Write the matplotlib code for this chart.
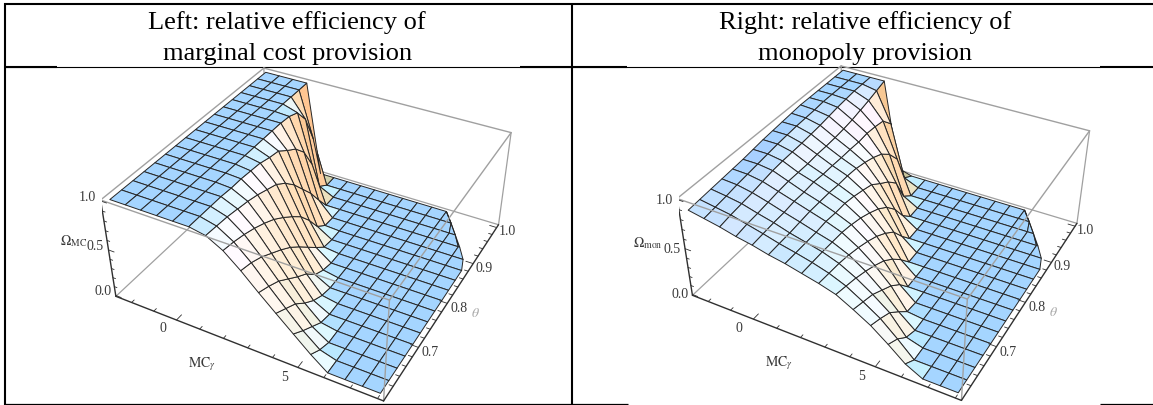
import numpy as np
import matplotlib
matplotlib.use("Agg")
import matplotlib.pyplot as plt

plt.rcParams['font.family'] = ['Liberation Serif', 'DejaVu Serif']
plt.rcParams['mathtext.fontset'] = 'stix'

FIG_W, FIG_H = 1153, 406

# grid of the surface
mc_grid = [-2.5, -1.84, -1.19, -0.53, 0.13, 0.78, 1.44, 2.09, 2.75, 3.41, 4.06, 4.72, 5.38, 6.03, 6.69, 7.34, 8.0]
theta_grid = [0.6, 0.625, 0.65, 0.675, 0.7, 0.725, 0.75, 0.775, 0.8, 0.825, 0.85, 0.875, 0.9, 0.925, 0.95, 0.975, 1.0]
# the surface is cut off at high theta
mc_edge = [8.0, 8.0, 8.0, 8.0, 8.0, 8.0, 8.0, 8.0, 8.0, 8.0, 8.0, 8.0, 7.8, 7.4, 6.95, 6.5, 6.03]

omega_mc = [
    [1, 1, 1, 1, 1, 1, .97, .88, .74, .58, .43, .28, .13, 0, 0, 0, 0],
    [1, 1, 1, 1, 1, 1, .96, .86, .71, .53, .36, .19, .05, 0, 0, 0, 0],
    [1, 1, 1, 1, 1, 1, .95, .83, .66, .47, .29, .11, 0, 0, 0, 0, 0],
    [1, 1, 1, 1, 1, 1, .93, .79, .59, .38, .18, .03, 0, 0, 0, 0, 0],
    [1, 1, 1, 1, 1, .99, .91, .74, .52, .29, .09, 0, 0, 0, 0, 0, 0],
    [1, 1, 1, 1, 1, .99, .88, .68, .44, .21, .03, 0, 0, 0, 0, 0, 0],
    [1, 1, 1, 1, 1, .98, .84, .60, .34, .09, 0, 0, 0, 0, 0, 0, 0],
    [1, 1, 1, 1, 1, .97, .80, .51, .23, .03, 0, 0, 0, 0, 0, 0, 0],
    [1, 1, 1, 1, 1, .94, .72, .41, .12, 0, 0, 0, 0, 0, 0, 0, 0],
    [1, 1, 1, 1, 1, .92, .61, .27, .02, 0, 0, 0, 0, 0, 0, 0, 0],
    [1, 1, 1, 1, 1, .84, .47, .10, 0, 0, 0, 0, 0, 0, 0, 0, 0],
    [1, 1, 1, 1, 1, .77, .33, .01, 0, 0, 0, 0, 0, 0, 0, 0, 0],
    [1, 1, 1, 1, .99, .65, .16, 0, 0, 0, 0, 0, 0, 0, 0, 0, 0],
    [1, 1, 1, 1, .95, .43, 0, 0, 0, 0, 0, 0, 0, 0, 0, 0, 0],
    [1, 1, 1, 1, .80, .08, 0, 0, 0, 0, 0, 0, 0, 0, 0, 0, 0],
    [1, 1, 1, 1, .50, 0, 0, 0, 0, 0, 0, 0, 0, 0, 0, 0, 0],
    [1, 1, 1, 1, 0, 0, 0, 0, 0, 0, 0, 0, 0, 0, 0, 0, 0],
]

omega_mon = [
    [.88, .85, .82, .78, .75, .71, .68, .64, .60, .55, .46, .36, .23, .09, 0, 0, 0],
    [.89, .865, .84, .80, .76, .716, .68, .64, .59, .52, .42, .31, .16, 0, 0, 0, 0],
    [.90, .88, .855, .81, .77, .72, .68, .64, .58, .49, .38, .25, .05, 0, 0, 0, 0],
    [.91, .90, .87, .825, .775, .73, .68, .635, .56, .45, .31, .14, 0, 0, 0, 0, 0],
    [.92, .915, .89, .84, .79, .74, .69, .63, .53, .40, .24, .02, 0, 0, 0, 0, 0],
    [.93, .93, .91, .85, .79, .74, .68, .61, .49, .34, .14, 0, 0, 0, 0, 0, 0],
    [.945, .945, .92, .85, .80, .74, .68, .58, .44, .25, 0, 0, 0, 0, 0, 0, 0],
    [.96, .96, .925, .85, .79, .73, .66, .535, .37, .135, 0, 0, 0, 0, 0, 0, 0],
    [.97, .97, .93, .86, .79, .73, .63, .48, .28, 0, 0, 0, 0, 0, 0, 0, 0],
    [.98, .98, .94, .86, .785, .72, .595, .40, .13, 0, 0, 0, 0, 0, 0, 0, 0],
    [.99, .985, .95, .865, .785, .695, .515, .28, 0, 0, 0, 0, 0, 0, 0, 0, 0],
    [1, .99, .965, .875, .78, .66, .44, .11, 0, 0, 0, 0, 0, 0, 0, 0, 0],
    [1, 1, .98, .89, .79, .61, .335, 0, 0, 0, 0, 0, 0, 0, 0, 0, 0],
    [1, 1, .99, .915, .78, .52, .09, 0, 0, 0, 0, 0, 0, 0, 0, 0, 0],
    [1, 1, 1, .94, .76, .38, 0, 0, 0, 0, 0, 0, 0, 0, 0, 0, 0],
    [1, 1, 1, .97, .65, .07, 0, 0, 0, 0, 0, 0, 0, 0, 0, 0, 0],
    [1, 1, 1, 1, .05, 0, 0, 0, 0, 0, 0, 0, 0, 0, 0, 0, 0],
]

mc_ticks = [0, 5]
mc_minor = [-2, -1, 1, 2, 3, 4, 6, 7, 8]
theta_ticks = [0.7, 0.8, 0.9, 1.0]
theta_minor = [0.62, 0.64, 0.66, 0.68, 0.72, 0.74, 0.76, 0.78, 0.82, 0.84, 0.86, 0.88, 0.92, 0.94, 0.96, 0.98]
omega_ticks = [0.0, 0.5, 1.0]
omega_minor = [0.1, 0.2, 0.3, 0.4, 0.6, 0.7, 0.8, 0.9]

titles_left = ["Left: relative efficiency of", "marginal cost provision"]
titles_right = ["Right: relative efficiency of", "monopoly provision"]

MC_LIM = (-2.72, 8.22)
THETA_LIM = (0.5917, 1.0083)
Z_LIM = (-0.01, 1.01)
ELEV, AZIM = 36.2, -61.6
ASPECT = (1, 1, 0.4)


def face_colors(x, y, z):
    # Mathematica style three coloured lights on a white surface
    px = (x - MC_LIM[0]) / (MC_LIM[1] - MC_LIM[0])
    py = (y - THETA_LIM[0]) / (THETA_LIM[1] - THETA_LIM[0])
    pz = (z - Z_LIM[0]) / (Z_LIM[1] - Z_LIM[0]) * ASPECT[2]
    pts = np.dstack([px, py, pz])
    d1 = pts[1:, 1:] - pts[:-1, :-1]
    d2 = pts[1:, :-1] - pts[:-1, 1:]
    n = np.cross(d2, d1)
    n /= np.linalg.norm(n, axis=2, keepdims=True)
    n[n[..., 2] < 0] *= -1

    e, a = np.deg2rad(ELEV), np.deg2rad(AZIM)
    right = np.array([-np.sin(a), np.cos(a), 0])
    up = np.array([-np.sin(e) * np.cos(a), -np.sin(e) * np.sin(a), np.cos(e)])
    back = np.array([np.cos(e) * np.cos(a), np.cos(e) * np.sin(a), np.sin(e)])
    view = np.dstack([n @ right, n @ up, n @ back])

    lights = [((1, 0, 1), 0), ((1, 1, 1), 1), ((0, 1, 1), 2)]
    rgb = np.zeros(view.shape)
    rgb[..., 0], rgb[..., 1], rgb[..., 2] = 0.312, 0.188, 0.4
    for direction, channel in lights:
        l = np.array(direction) / np.linalg.norm(direction)
        rgb[..., channel] += 0.8 * np.clip(view @ l, 0, None)
    return np.clip(rgb, 0, 1)


def box_line(ax, p, q, color, lw, zorder):
    ax.plot([p[0], q[0]], [p[1], q[1]], [p[2], q[2]], color=color, lw=lw, zorder=zorder, solid_capstyle='round')


def draw_panel(rect, table, omega_label, label_pos, z_shift):
    left, bottom, size = rect
    ax = fig.add_axes([left / FIG_W, bottom / FIG_H, size / FIG_W, size / FIG_H], projection='3d')
    ax.set_proj_type('persp', focal_length=0.438)
    ax.view_init(elev=ELEV, azim=AZIM)
    ax.set_box_aspect(ASPECT)
    ax.set_xlim(*MC_LIM, view_margin=0)
    ax.set_ylim(*THETA_LIM, view_margin=0)
    ax.set_zlim(*Z_LIM, view_margin=0)
    ax.set_xticks([])
    ax.set_yticks([])
    ax.set_zticks([])
    ax.set_axis_off()
    ax.patch.set_visible(False)
    ax.computed_zorder = False

    z = np.array(table, dtype=float)
    x = np.array([[min(m, e) for m in mc_grid] for e in mc_edge])
    y = np.array([[t] * len(mc_grid) for t in theta_grid])

    surf = ax.plot_surface(x, y, z, rstride=1, cstride=1, facecolors=face_colors(x, y, z),
                           shade=False, linewidth=0.7, antialiased=True, zorder=2)
    surf.set_edgecolor('#262626')

    x0, x1 = MC_LIM
    y0, y1 = THETA_LIM
    z0, z1 = Z_LIM
    grey = '#a0a0a0'
    dark = '#303030'
    # box edges behind the surface
    box_line(ax, (x0, y0, z0), (x0, y1, z0), grey, 0.9, 1)
    box_line(ax, (x0, y1, z0), (x1, y1, z0), grey, 0.9, 1)
    box_line(ax, (x0, y1, z0), (x0, y1, z1), grey, 0.9, 1)
    box_line(ax, (x1, y1, z0), (x1, y1, z1), grey, 0.9, 1)
    box_line(ax, (x0, y1, z1), (x1, y1, z1), grey, 1.0, 1)
    box_line(ax, (x0, y0, z1), (x0, y1, z1), grey, 1.0, 1)
    # box edges in front of it
    box_line(ax, (x0, y0, z1), (x1, y0, z1), grey, 1.0, 3)
    box_line(ax, (x1, y0, z1), (x1, y1, z1), grey, 1.0, 3)
    box_line(ax, (x1, y0, z0), (x1, y0, z1), grey, 1.0, 3)
    box_line(ax, (x0, y0, z0), (x1, y0, z0), dark, 1.0, 3)
    box_line(ax, (x1, y0, z0), (x1, y1, z0), dark, 1.0, 3)
    box_line(ax, (x0, y0, z0), (x0, y0, z1), dark, 1.0, 3)

    # ticks, all drawn in data space so the perspective is right
    for t in mc_ticks + mc_minor:
        l = 0.012 if t in mc_ticks else 0.006
        box_line(ax, (t, y0, z0), (t, y0 + l, z0), dark, 0.6, 3)
    for t in theta_ticks + theta_minor:
        l = 0.3 if t in theta_ticks else 0.15
        box_line(ax, (x1, t, z0), (x1 - l, t, z0), dark, 0.6, 3)
    for t in omega_ticks + omega_minor:
        l = 0.25 if t in omega_ticks else 0.12
        box_line(ax, (x0, y0, t), (x0 + l, y0, t), dark, 0.6, 3)

    txt = dict(color='#3a3a3a', fontsize=10, ha='center', va='center', zorder=5)
    for t in mc_ticks:
        ax.text(t - 0.2, y0 - 0.022, z0, str(t), **txt)
    for t in theta_ticks:
        ax.text(x1 + 0.45, t, z0, f"{t:.1f}", **txt)
    for t in omega_ticks:
        ax.text(x0 - 0.6, y0, t + z_shift, f"{t:.1f}", **txt)
    ax.text(2.0, y0 - 0.052, z0, r"$\mathrm{MC}_{\gamma}$", **txt)
    ax.text(x1 + 1.1, 0.80, z0, r"$\theta$", color='#a8a8a8', fontsize=10, ha='center', va='center', zorder=5)
    ax.text(x0 + label_pos[0], y0, label_pos[1], omega_label, **txt)
    return ax


fig = plt.figure(figsize=(FIG_W / 100, FIG_H / 100), dpi=100)

# table rules of the page, pixel coordinates
page = fig.add_axes([0, 0, 1, 1])
page.set_xlim(0, FIG_W)
page.set_ylim(FIG_H, 0)
page.set_xticks([])
page.set_yticks([])
page.axis('off')
page.plot([4, 1153], [5, 5], color='k', lw=1.5, solid_capstyle='butt')
page.plot([5, 5], [4, 406], color='k', lw=1.5, solid_capstyle='butt')
page.plot([572, 572], [4, 405], color='k', lw=1.5, solid_capstyle='butt')
page.plot([5, 628], [405, 405], color='k', lw=0.9, solid_capstyle='butt')
page.plot([1100, 1153], [405, 405], color='k', lw=0.9, solid_capstyle='butt')
page.plot([5, 1100], [67.5, 67.5], color='k', lw=0.8, solid_capstyle='butt')
for a, b in [(5, 57), (520, 627), (1100, 1153)]:
    page.plot([a, b], [67.5, 67.5], color='k', lw=1.5, solid_capstyle='butt')

for cx, lines in [((286.5, 288), titles_left), ((865, 864.5), titles_right)]:
    for xx, yy, line in zip(cx, [29, 60], lines):
        page.text(xx, yy, line, fontsize=19, ha='center', va='baseline', color='k')

draw_panel((102.5, -22, 416), omega_mc, r"$\Omega_{\mathrm{MC}}$", (-1.6, 0.47), 0.0)
draw_panel((679, -21.6, 418), omega_mon, r"$\Omega_{\mathrm{mon}}$", (-1.75, 0.42), -0.05)

fig.savefig('out.png', dpi=100)
